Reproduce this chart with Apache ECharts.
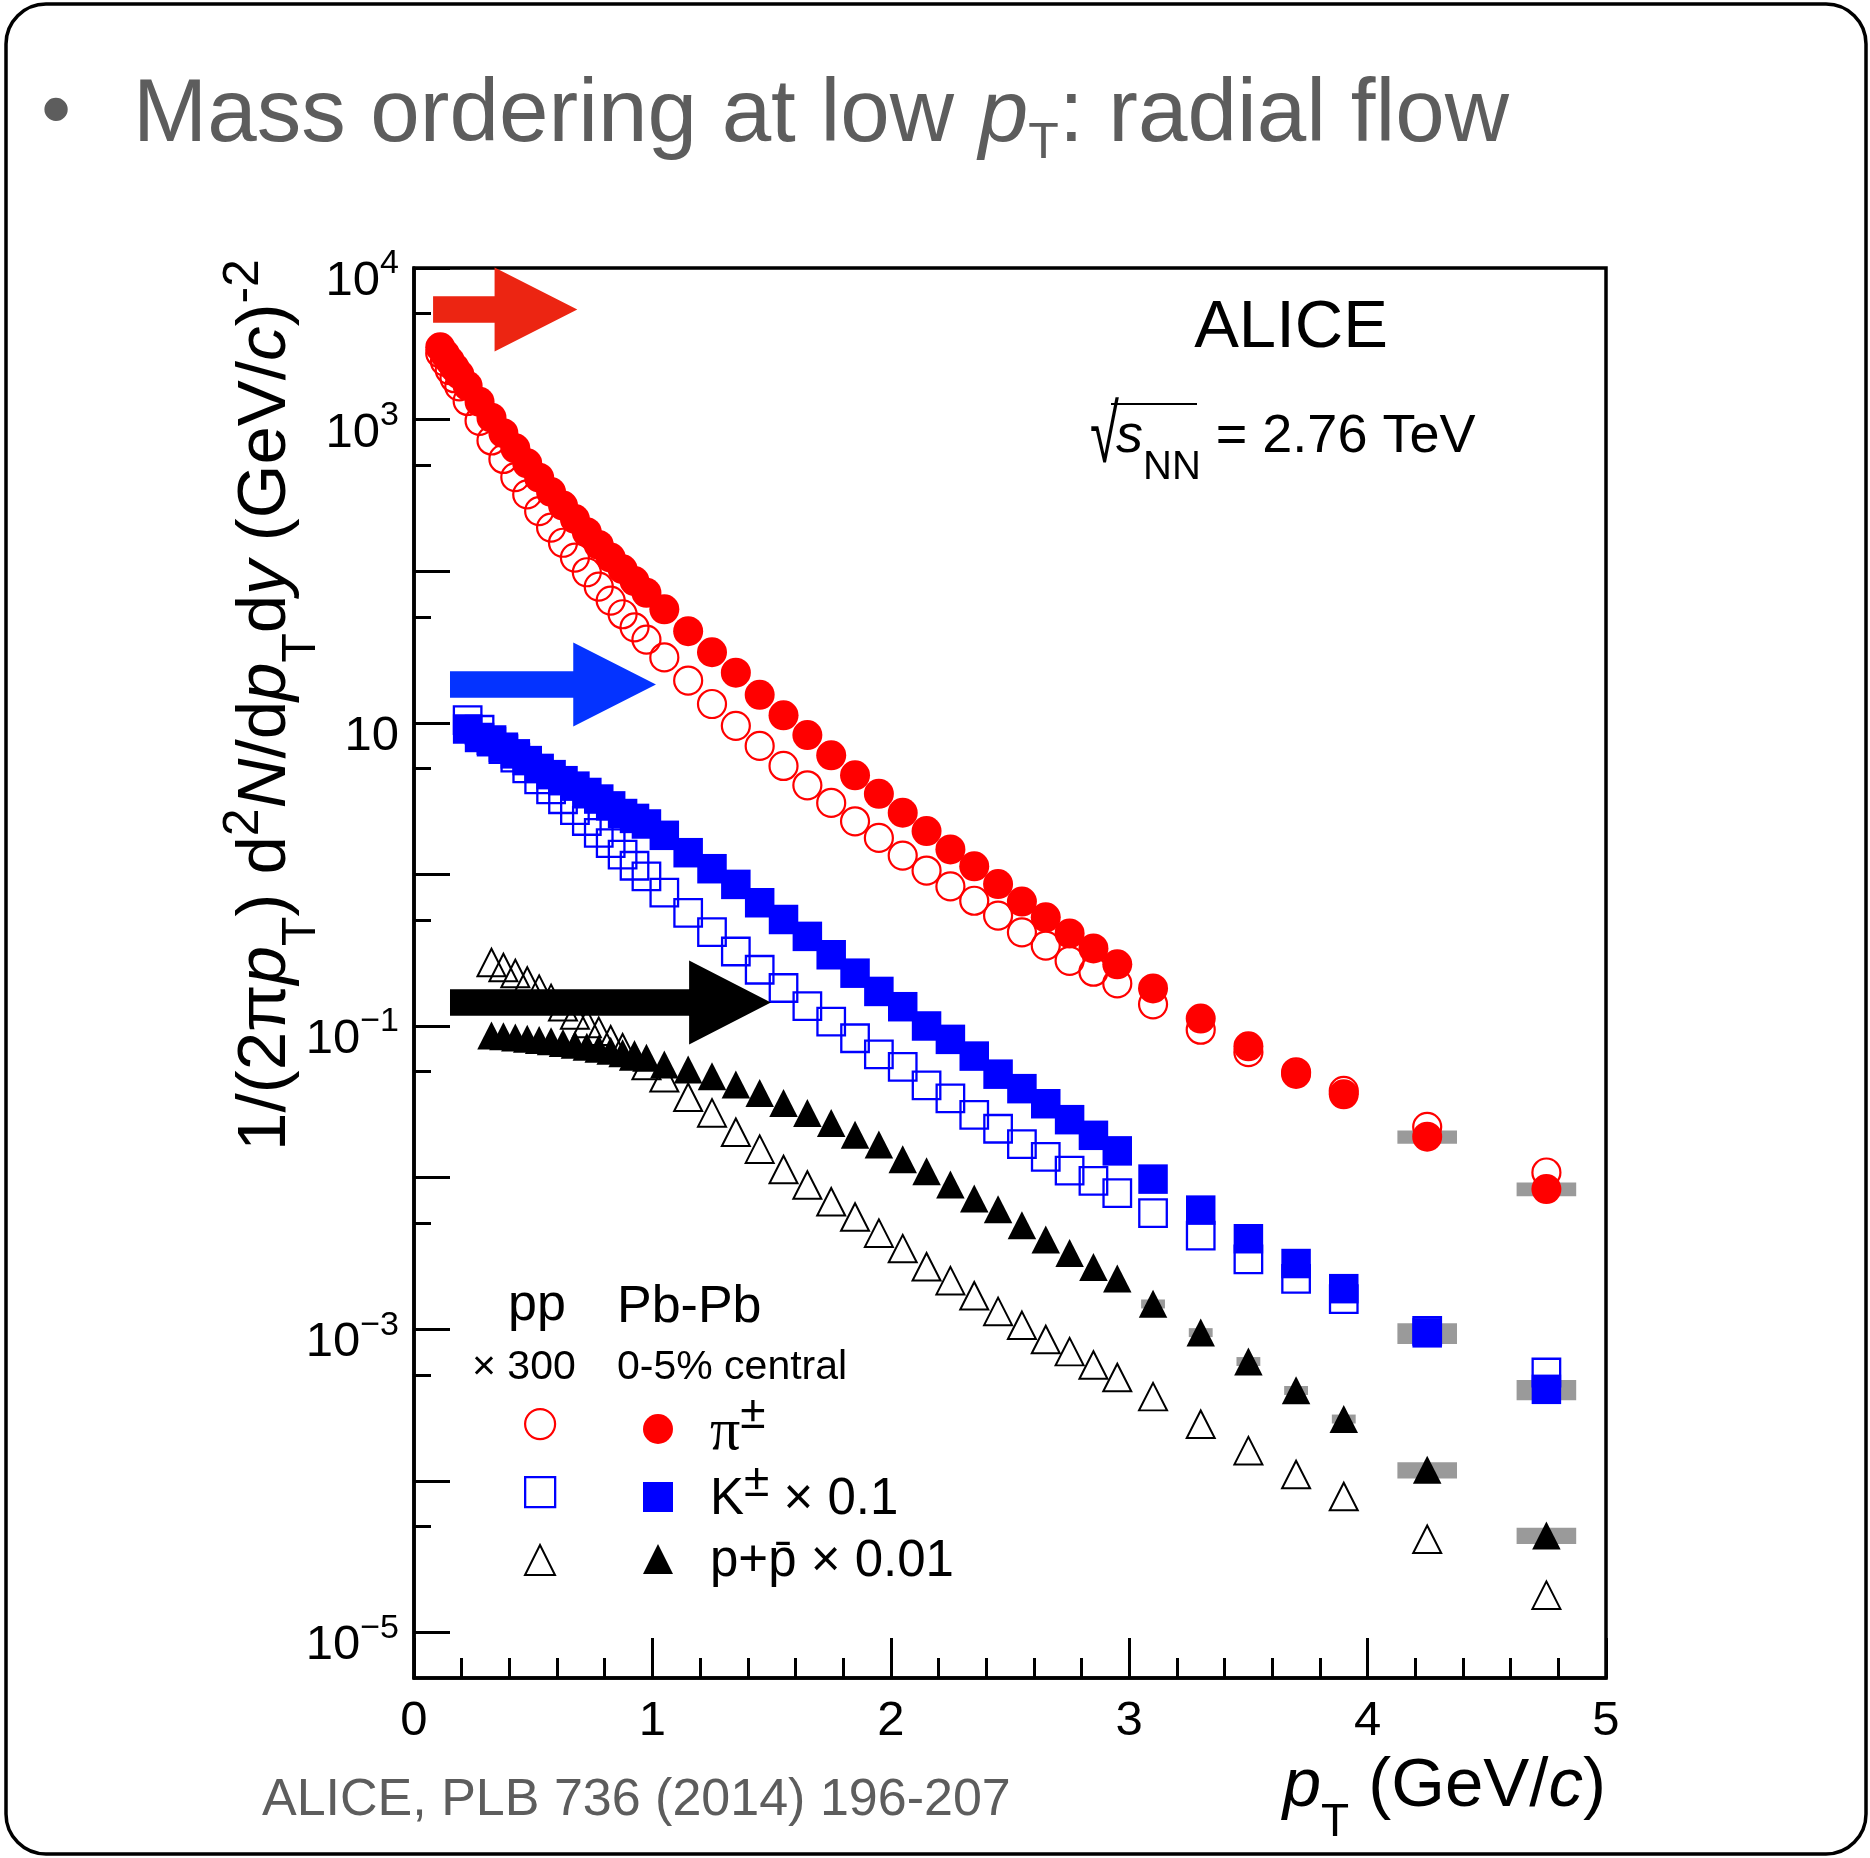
<!DOCTYPE html>
<html>
<head>
<meta charset="utf-8">
<script src="https://cdn.jsdelivr.net/npm/echarts@6/dist/echarts.min.js"></script>
<style>html,body{margin:0;padding:0;background:#fff}#c{width:1870px;height:1858px}</style>
</head>
<body>
<div id="c"></div>
<script>
// ---------------- data ----------------
const ptPi = [0.11,0.13,0.15,0.17,0.19,0.225,0.275,0.325,0.375,0.425,0.475,0.525,0.575,0.625,0.675,0.725,0.775,0.825,0.875,0.925,0.975,
  1.05,1.15,1.25,1.35,1.45,1.55,1.65,1.75,1.85,1.95,2.05,2.15,2.25,2.35,2.45,2.55,2.65,2.75,2.85,2.95,3.1,3.3,3.5,3.7,3.9,4.25,4.75];
const ptK = [0.225,0.275,0.325,0.375,0.425,0.475,0.525,0.575,0.625,0.675,0.725,0.775,0.825,0.875,0.925,0.975,
  1.05,1.15,1.25,1.35,1.45,1.55,1.65,1.75,1.85,1.95,2.05,2.15,2.25,2.35,2.45,2.55,2.65,2.75,2.85,2.95,3.1,3.3,3.5,3.7,3.9,4.25,4.75];
const ptP = [0.325,0.375,0.425,0.475,0.525,0.575,0.625,0.675,0.725,0.775,0.825,0.875,0.925,0.975,
  1.05,1.15,1.25,1.35,1.45,1.55,1.65,1.75,1.85,1.95,2.05,2.15,2.25,2.35,2.45,2.55,2.65,2.75,2.85,2.95,3.1,3.3,3.5,3.7,3.9,4.25,4.75];

// Pb-Pb 0-5% central
const piPbPb = [3000,2700,2440,2200,1990,1670,1310,1030,813,646,515,414,333,271,221,181,149,123,103,86,72,
  56,40.2,29.2,21.4,15.3,11.2,8.3,6.1,4.5,3.4,2.55,1.93,1.46,1.13,0.863,0.662,0.521,0.408,0.325,0.255,
  0.177,0.112,0.0734,0.0483,0.0354,0.0186,0.0084];
const kPbPb = [9.1,8.0,7.5,6.9,6.24,5.63,5.0,4.55,4.15,3.82,3.47,3.14,2.83,2.52,2.34,2.15,
  1.81,1.39,1.09,0.859,0.650,0.504,0.390,0.295,0.223,0.169,0.134,0.100,0.0816,0.0633,0.0481,0.0386,0.0307,0.0241,0.0190,0.0150,
  0.00977,0.0061,0.00395,0.00271,0.00185,0.000946,0.000401];
const pPbPb = [0.0867,0.0855,0.0841,0.0824,0.0808,0.0792,0.0771,0.0752,0.0729,0.0707,0.0686,0.0662,0.0639,0.0617,
  0.0557,0.0516,0.0466,0.0411,0.0361,0.0310,0.0267,0.0229,0.0192,0.0165,0.0132,0.0110,0.00901,0.00728,0.00618,0.00484,0.00391,0.00318,0.00257,0.00216,
  0.00147,0.000951,0.000613,0.000395,0.000256,0.000118,0.0000436];

// pp x 300
const piPP = [2740,2410,2120,1875,1656,1327,982,728,550,417,321,249,194,154,123,98.4,79.1,64,52,42.6,35.4,
  27.0,19.0,13.3,9.55,7.04,5.19,3.87,2.96,2.24,1.74,1.33,1.06,0.833,0.670,0.535,0.415,0.339,0.269,0.228,0.191,
  0.139,0.0945,0.0672,0.0495,0.0373,0.0216,0.0108];
const kPP = [10.4,9.0,7.68,6.70,5.89,5.00,4.24,3.64,3.13,2.65,2.25,1.88,1.61,1.35,1.14,0.970,
  0.757,0.557,0.416,0.310,0.235,0.178,0.135,0.107,0.083,0.065,0.0537,0.0406,0.0333,0.0259,0.0210,0.0166,0.0137,0.0111,0.0095,0.0079,
  0.00582,0.00414,0.00289,0.00215,0.00158,0.000975,0.000518];
const pPP = [0.262,0.243,0.222,0.198,0.175,0.152,0.134,0.118,0.104,0.0922,0.0811,0.0718,0.0633,0.0549,
  0.0455,0.0339,0.0267,0.0199,0.0154,0.0113,0.00893,0.00693,0.0055,0.0043,0.0034,0.00258,0.00209,0.00166,0.00131,0.00106,0.000855,0.000711,0.00058,0.00048,
  0.000359,0.000236,0.000158,0.000110,0.0000787,0.0000411,0.0000176];

// systematic uncertainty boxes (Pb-Pb, high pT)
const sysPt = [3.1,3.3,3.5,3.7,3.9,4.25,4.75];
const sysHalfBin = [0.05,0.05,0.05,0.05,0.05,0.125,0.125];
const piSysRel = [0.07,0.07,0.075,0.08,0.08,0.10,0.105];
const kSysRel = [0.10,0.10,0.11,0.12,0.13,0.155,0.152];
const pSysRel = [0.068,0.068,0.068,0.068,0.068,0.124,0.122];

// arrows (data coordinates)
const arrowTail = [0.08, 0.151, 0.151];
const arrowNeck = [0.338, 0.668, 1.154];
const arrowTip = [0.685, 1.015, 1.497];
const arrowLevel = [5330, 17.9, 0.143];

// axis ticks
const yMajorTicks = [1e4,1e3,1e2,10,1,0.1,0.01,1e-3,1e-4,1e-5];
const yMinorTicks = [5000,500,50,5,0.5,0.05,0.005,5e-4,5e-5];
const yLabelValues = [1e4,1e3,10,0.1,1e-3,1e-5];

// ---------------- styles ----------------
const FONT = "'Liberation Sans', Arial, Helvetica, sans-serif";
const SERIF = "'Liberation Serif', 'DejaVu Serif', serif";
const GRAY = '#5d5d5d';
const RED = '#ff0000', BLUE = '#0000ff', BLACK = '#000000';
const arrowColors = ['#ec2512', '#0433ff', '#000000'];
const NONE = 'rgba(0,0,0,0)';

const pairs = (xs, ys) => xs.map((x, i) => [x, ys[i]]);
function sysData(vals, rel) {
  const off = vals.length - sysPt.length;
  return sysPt.map((x, i) => [x, vals[off + i], sysHalfBin[i], rel[i]]);
}
function renderSys(params, api) {
  const x = api.value(0), y = api.value(1), dx = api.value(2), r = api.value(3);
  const p0 = api.coord([x - dx, y * (1 + r)]);
  const p1 = api.coord([x + dx, y * (1 - r)]);
  return {type: 'rect', shape: {x: p0[0], y: p0[1], width: p1[0] - p0[0], height: p1[1] - p0[1]},
    style: {fill: '#9a9a9a'}};
}
function renderArrow(params, api) {
  const yv = api.value(3);
  const a = api.coord([api.value(0), yv]);
  const b = api.coord([api.value(1), yv]);
  const c = api.coord([api.value(2), yv]);
  const hb = 13.3, hh = 42;
  const y = a[1];
  return {type: 'polygon', shape: {points: [[a[0], y - hb], [b[0], y - hb], [b[0], y - hh], [c[0], y],
    [b[0], y + hh], [b[0], y + hb], [a[0], y + hb]]}, style: {fill: arrowColors[params.dataIndex]}};
}

const chart = echarts.init(document.getElementById('c'), null, {width: 1870, height: 1858, renderer: 'canvas'});

const yRich = {
  b: {fontSize: 49, fontFamily: FONT, color: '#000', lineHeight: 42, padding: [10, 0, 0, 0], verticalAlign: 'top'},
  s: {fontSize: 34, fontFamily: FONT, color: '#000', lineHeight: 30, verticalAlign: 'top'}
};

// legend layout (one legend component per entry)
const legendRowY = [1423, 1491, 1559];
const ppEntries = [
  {name: 'pp π±', icon: 'circle', itemStyle: {color: NONE, borderColor: RED, borderWidth: 2.2}},
  {name: 'pp K±', icon: 'rect', itemStyle: {color: NONE, borderColor: BLUE, borderWidth: 2.3}},
  {name: 'pp p+p̄', icon: 'triangle', itemStyle: {color: NONE, borderColor: BLACK, borderWidth: 2}}
];
const aaEntries = [
  {name: 'Pb-Pb π±', icon: 'circle', itemStyle: {color: RED, borderWidth: 0}},
  {name: 'Pb-Pb K± × 0.1', icon: 'rect', itemStyle: {color: BLUE, borderWidth: 0}},
  {name: 'Pb-Pb p+p̄ × 0.01', icon: 'triangle', itemStyle: {color: BLACK, borderWidth: 0}}
];
const legendLabels = {
  'Pb-Pb π±': '{g| }{pi|π}{s|±}',
  'Pb-Pb K± × 0.1': '{g| }{n|K}{s|±}{n| × 0.1}',
  'Pb-Pb p+p̄ × 0.01': '{g| }{n|p+p\u0304 × 0.01}'
};
const aaRich = {
  g: {width: 32, height: 10, fontSize: 10, lineHeight: 62, verticalAlign: 'top'},
  n: {fontSize: 51, fontFamily: FONT, color: '#000', height: 51, lineHeight: 62, padding: [8, 0, 0, 0], verticalAlign: 'top'},
  pi: {fontSize: 60, fontFamily: SERIF, color: '#000', height: 60, lineHeight: 62, padding: [5, 0, 0, 0], verticalAlign: 'top'},
  s: {fontSize: 46, fontFamily: FONT, color: '#000', height: 34, lineHeight: 62, padding: [0, 0, 0, 0], verticalAlign: 'top'}
};
const legends = [];
ppEntries.forEach((e, i) => legends.push({
  orient: 'vertical', left: 524, top: legendRowY[i] - 15, padding: 0, itemWidth: 30, itemHeight: 30,
  selectedMode: false, formatter: function () { return ''; }, textStyle: {fontSize: 8, lineHeight: 8}, data: [e]
}));
aaEntries.forEach((e, i) => legends.push({
  orient: 'vertical', left: 643, top: legendRowY[i] - 31, padding: 0, itemWidth: 30, itemHeight: 30,
  selectedMode: false, formatter: function (n) { return legendLabels[n]; }, textStyle: {rich: aaRich}, data: [e]
}));

const option = {
  animation: false,
  backgroundColor: '#ffffff',
  grid: {left: 414, top: 268, width: 1192, height: 1410, show: true, borderColor: '#000', borderWidth: 3.5,
    backgroundColor: 'rgba(0,0,0,0)', containLabel: false, outerBoundsMode: 'none'},
  xAxis: [{
    type: 'value', min: 0, max: 5, interval: 1, position: 'bottom',
    axisLine: {show: true, onZero: false, lineStyle: {color: '#000', width: 3.5}},
    axisTick: {show: true, inside: true, length: 40, lineStyle: {color: '#000', width: 3}},
    minorTick: {show: true, splitNumber: 5, length: 20, lineStyle: {color: '#000', width: 3}},
    axisLabel: {fontSize: 49, fontFamily: FONT, color: '#000', margin: 19},
    splitLine: {show: false}, minorSplitLine: {show: false},
    name: '{i|p}{sub|T}{n| (GeV/}{i|c}{n|)}', nameLocation: 'end', nameGap: 0, nameMoveOverlap: false,
    nameTextStyle: {align: 'right', verticalAlign: 'top', padding: [74, 0, 0, 0], rich: {
      n: {fontSize: 69, fontFamily: FONT, color: '#000', lineHeight: 66, verticalAlign: 'top'},
      i: {fontSize: 69, fontFamily: FONT, fontStyle: 'italic', color: '#000', lineHeight: 66, verticalAlign: 'top'},
      sub: {fontSize: 46, fontFamily: FONT, color: '#000', lineHeight: 40, padding: [48, 0, 0, 0], verticalAlign: 'top'}
    }}
  }],
  yAxis: [{
    type: 'log', logBase: 10, min: 5e-6, max: 1e4, position: 'left',
    axisLine: {show: true, lineStyle: {color: '#000', width: 3.5}},
    axisTick: {show: true, inside: true, length: 36, customValues: yMajorTicks, lineStyle: {color: '#000', width: 3}},
    axisLabel: {show: true, margin: 15, customValues: yLabelValues, rich: yRich,
      formatter: function (v) {
        const e = Math.round(Math.log10(v));
        if (e === 1) return '{b|10}';
        return '{b|10}{s|' + (e < 0 ? '\u2212' + (-e) : e) + '}';
      }},
    splitLine: {show: false}, minorTick: {show: false},
    name: '{n|1/(2π}{i|p}{sub|T}{n|) d}{sup|2}{i|N}{n|/d}{i|p}{sub|T}{n|d}{i|y}{n| (GeV/}{i|c}{n|)}{sup|-2}',
    nameLocation: 'middle', nameRotate: 90, nameGap: 100, nameMoveOverlap: false,
    nameTextStyle: {padding: [0, 0, 0, 536], rich: {
      n: {fontSize: 69, fontFamily: FONT, color: '#000', height: 70, lineHeight: 100, padding: [17, 0, 0, 0], verticalAlign: 'top'},
      i: {fontSize: 69, fontFamily: FONT, fontStyle: 'italic', color: '#000', height: 70, lineHeight: 100, padding: [17, 0, 0, 0], verticalAlign: 'top'},
      sup: {fontSize: 50, fontFamily: FONT, color: '#000', height: 40, lineHeight: 100, padding: [10, 0, 0, 0], verticalAlign: 'top'},
      sub: {fontSize: 48, fontFamily: FONT, color: '#000', height: 40, lineHeight: 100, padding: [68, 0, 0, 0], verticalAlign: 'top'}
    }}
  }, {
    type: 'log', logBase: 10, min: 5e-6, max: 1e4, position: 'left', offset: 0,
    axisLine: {show: false},
    axisTick: {show: true, inside: true, length: 17, customValues: yMinorTicks, lineStyle: {color: '#000', width: 3}},
    axisLabel: {show: false}, splitLine: {show: false}
  }],
  legend: legends,
  series: [
    {type: 'custom', name: 'sys π', renderItem: renderSys, data: sysData(piPbPb, piSysRel), encode: {x: 0, y: 1}, z: 2, silent: true, clip: false},
    {type: 'custom', name: 'sys K', renderItem: renderSys, data: sysData(kPbPb, kSysRel), encode: {x: 0, y: 1}, z: 2, silent: true, clip: false},
    {type: 'custom', name: 'sys p', renderItem: renderSys, data: sysData(pPbPb, pSysRel), encode: {x: 0, y: 1}, z: 2, silent: true, clip: false},

    {type: 'scatter', name: 'pp π±', data: pairs(ptPi, piPP), symbol: 'circle', symbolSize: 28, z: 3, silent: true,
      itemStyle: {color: NONE, borderColor: RED, borderWidth: 2.2, opacity: 1}},
    {type: 'scatter', name: 'pp K±', data: pairs(ptK, kPP), symbol: 'rect', symbolSize: 27.5, z: 3, silent: true,
      itemStyle: {color: NONE, borderColor: BLUE, borderWidth: 2.3, opacity: 1}},
    {type: 'scatter', name: 'pp p+p̄', data: pairs(ptP, pPP), symbol: 'triangle', symbolSize: [28, 27.5], z: 3, silent: true,
      itemStyle: {color: NONE, borderColor: BLACK, borderWidth: 2, opacity: 1}},

    {type: 'scatter', name: 'Pb-Pb π±', data: pairs(ptPi, piPbPb), symbol: 'circle', symbolSize: 30, z: 4, silent: true,
      itemStyle: {color: RED, opacity: 1}},
    {type: 'scatter', name: 'Pb-Pb K± × 0.1', data: pairs(ptK, kPbPb), symbol: 'rect', symbolSize: 29.5, z: 4, silent: true,
      itemStyle: {color: BLUE, opacity: 1}},
    {type: 'scatter', name: 'Pb-Pb p+p̄ × 0.01', data: pairs(ptP, pPbPb), symbol: 'triangle', symbolSize: [28.5, 28], z: 4, silent: true,
      itemStyle: {color: BLACK, opacity: 1}},

    {type: 'custom', name: 'arrows', renderItem: renderArrow,
      data: arrowTail.map((t, i) => [t, arrowNeck[i], arrowTip[i], arrowLevel[i]]),
      encode: {x: [0, 1, 2], y: 3}, z: 5, silent: true, clip: false}
  ],
  graphic: [
    {type: 'rect', silent: true, z: 100, shape: {x: 6, y: 4, width: 1860, height: 1850, r: 40},
      style: {fill: 'rgba(0,0,0,0)', stroke: '#000', lineWidth: 3.5}},
    {type: 'text', x: 56, y: 114, style: {text: '•', fontSize: 86, fontFamily: FONT, fill: GRAY, align: 'center', verticalAlign: 'middle'}},
    {type: 'text', x: 133, y: 72, style: {text: '{n|Mass ordering at low }{i|p}{sub|T}{n|: radial flow}', align: 'left', verticalAlign: 'top',
      rich: {
        n: {fontSize: 89, fontFamily: FONT, fill: GRAY, lineHeight: 100, verticalAlign: 'top'},
        i: {fontSize: 89, fontFamily: FONT, fontStyle: 'italic', fill: GRAY, lineHeight: 100, verticalAlign: 'top'},
        sub: {fontSize: 50, fontFamily: FONT, fill: GRAY, lineHeight: 40, padding: [47, 0, 0, 0], verticalAlign: 'top'}
      }}},
    {type: 'text', x: 1291, y: 329, style: {text: 'ALICE', fontSize: 67, fontFamily: FONT, fill: '#000', align: 'center', verticalAlign: 'middle'}},
    {type: 'text', x: 1090, y: 399, scaleX: 0.85, scaleY: 1.32, style: {text: '√', fontSize: 62, fontFamily: FONT, fill: '#000', align: 'left', verticalAlign: 'top'}},
    {type: 'text', x: 1116, y: 410, style: {text: '{i|s}{sub|NN}{n| = 2.76 TeV}', align: 'left', verticalAlign: 'top',
      rich: {
        i: {fontSize: 54, fontFamily: FONT, fontStyle: 'italic', fill: '#000', lineHeight: 70, verticalAlign: 'top'},
        n: {fontSize: 54, fontFamily: FONT, fill: '#000', lineHeight: 70, verticalAlign: 'top'},
        sub: {fontSize: 40, fontFamily: FONT, fill: '#000', lineHeight: 40, padding: [38, 0, 0, 0], verticalAlign: 'top'}
      }}},
    {type: 'line', silent: true, shape: {x1: 1111, y1: 404, x2: 1197, y2: 404}, style: {stroke: '#000', lineWidth: 2}},
    {type: 'text', x: 508, y: 1306, style: {text: 'pp', fontSize: 52, fontFamily: FONT, fill: '#000', align: 'left', verticalAlign: 'middle'}},
    {type: 'text', x: 617, y: 1308, style: {text: 'Pb-Pb', fontSize: 52, fontFamily: FONT, fill: '#000', align: 'left', verticalAlign: 'middle'}},
    {type: 'text', x: 472, y: 1368, style: {text: '× 300', fontSize: 41, fontFamily: FONT, fill: '#000', align: 'left', verticalAlign: 'middle'}},
    {type: 'text', x: 617, y: 1368, style: {text: '0-5% central', fontSize: 41, fontFamily: FONT, fill: '#000', align: 'left', verticalAlign: 'middle'}},
    {type: 'text', x: 262, y: 1801, style: {text: 'ALICE, PLB 736 (2014) 196-207', fontSize: 52, fontFamily: FONT, fill: GRAY, align: 'left', verticalAlign: 'middle'}}
  ]
};
chart.setOption(option);
</script>
</body>
</html>
